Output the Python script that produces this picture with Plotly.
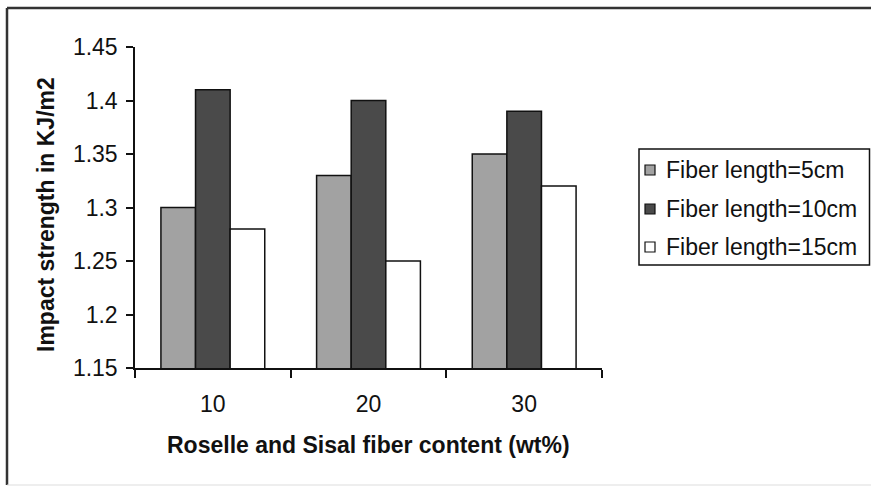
import plotly.graph_objects as go

categories = ["10", "20", "30"]
series_names = ["Fiber length=5cm", "Fiber length=10cm", "Fiber length=15cm"]
len5 = [1.30, 1.33, 1.35]
len10 = [1.41, 1.40, 1.39]
len15 = [1.28, 1.25, 1.32]
colors = ["#A2A2A2", "#4A4A4A", "#FFFFFF"]
y_tick_vals = [1.15, 1.2, 1.25, 1.3, 1.35, 1.4, 1.45]
y_tick_text = ["1.15", "1.2", "1.25", "1.3", "1.35", "1.4", "1.45"]

W, H = 871, 486
ML, MR, MT, MB = 135, 269, 47, 118
PW, PH = W - ML - MR, H - MT - MB

def px(x):
    return (x - ML) / PW

def py(y):
    return 1 - (y - MT) / PH

FONT = "Liberation Sans, Arial, sans-serif"
TXT = "#111111"

fig = go.Figure()
for name, vals, col in zip(series_names, [len5, len10, len15], colors):
    fig.add_trace(go.Bar(
        x=categories, y=vals, name=name, showlegend=False,
        marker=dict(color=col, line=dict(color="#111111", width=1.5)),
    ))

shapes = [
    dict(type="line", xref="paper", yref="paper", x0=px(7), x1=px(871), y0=py(8), y1=py(8),
         line=dict(color="#333333", width=2.5)),
    dict(type="line", xref="paper", yref="paper", x0=px(7), x1=px(7), y0=py(8), y1=py(485),
         line=dict(color="#333333", width=2.5)),
    dict(type="line", xref="paper", yref="paper", x0=px(7), x1=px(871), y0=py(485), y1=py(485),
         line=dict(color="#DDDDDD", width=1)),
    # legend box
    dict(type="rect", xref="paper", yref="paper", x0=px(639), x1=px(869.5), y0=py(149), y1=py(265),
         line=dict(color="#111111", width=1.5), fillcolor="white", layer="above"),
]
annotations = [
    dict(text="<b>Roselle and Sisal fiber content (wt%)</b>", xref="paper", yref="paper",
         x=px(368), y=py(445), xanchor="center", yanchor="middle", showarrow=False,
         font=dict(family=FONT, size=23, color=TXT)),
    dict(text="<b>Impact strength in KJ/m2</b>", xref="paper", yref="paper",
         x=px(46), y=py(215), xanchor="center", yanchor="middle", showarrow=False,
         textangle=-90, font=dict(family=FONT, size=23, color=TXT)),
]

row_y = [170, 209, 247]
for name, col, ry in zip(series_names, colors, row_y):
    shapes.append(dict(type="rect", xref="paper", yref="paper",
                       x0=px(645), x1=px(655), y0=py(ry - 5), y1=py(ry + 5),
                       line=dict(color="#111111", width=1.2), fillcolor=col, layer="above"))
    annotations.append(dict(text=name, xref="paper", yref="paper",
                            x=px(664), y=py(ry), xanchor="left", yanchor="middle",
                            showarrow=False, font=dict(family=FONT, size=23, color=TXT)))

fig.update_layout(
    width=W, height=H,
    margin=dict(l=ML, r=MR, t=MT, b=MB, autoexpand=False),
    paper_bgcolor="white", plot_bgcolor="white",
    barmode="group", bargap=0.333, bargroupgap=0,
    font=dict(family=FONT, size=23, color=TXT),
    showlegend=False,
    xaxis=dict(
        type="category", showline=True, linecolor="#111111", linewidth=1.5,
        ticks="outside", ticklen=8, tickwidth=1.5, tickcolor="#111111",
        tickson="boundaries", showgrid=False, zeroline=False,
        tickfont=dict(family=FONT, size=23, color=TXT),
        ticklabelstandoff=15,
    ),
    yaxis=dict(
        range=[1.15, 1.45], showline=True, linecolor="#111111", linewidth=1.5,
        ticks="outside", ticklen=7, tickwidth=1.5, tickcolor="#111111",
        tickvals=y_tick_vals, ticktext=y_tick_text,
        showgrid=False, zeroline=False,
        tickfont=dict(family=FONT, size=23, color=TXT),
        ticklabelstandoff=4,
    ),
    annotations=annotations,
    shapes=shapes,
)

fig.write_html("out.html")
